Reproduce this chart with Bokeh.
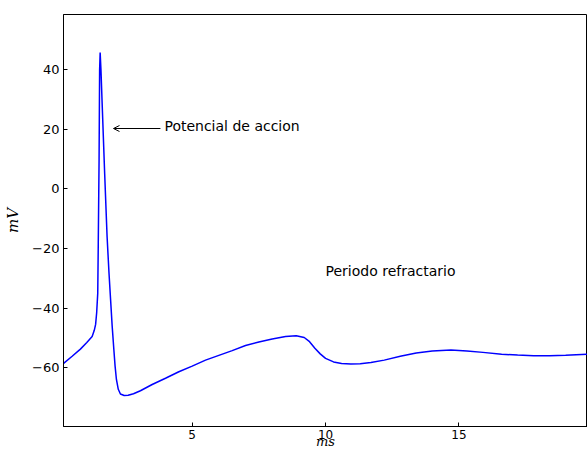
from bokeh.plotting import figure
from bokeh.models import Range1d, FixedTicker, Label, Arrow, OpenHead, ColumnDataSource
from bokeh.embed import file_html
from bokeh.resources import INLINE

# time (ms) and membrane potential (mV)
t_ms = [0.18, 0.5, 0.81, 1.05, 1.25, 1.33, 1.38, 1.42, 1.46, 1.48, 1.51, 1.53, 1.55,
        1.58, 1.63, 1.72, 1.81, 1.88, 1.94, 2.00, 2.06, 2.11, 2.16, 2.23, 2.31, 2.45,
        2.6, 2.8, 3.06, 3.5, 4.0, 4.5, 5.0, 5.5, 6.0, 6.5, 7.0, 7.5, 8.0, 8.5, 8.9,
        9.2, 9.4, 9.6, 9.8, 10.0, 10.3, 10.6, 10.95, 11.3, 11.7, 12.2, 12.8, 13.4,
        14.0, 14.7, 15.3, 15.9, 16.6, 17.2, 17.8, 18.4, 19.0, 19.6, 19.9]
v_mv = [-58.6, -56.2, -53.8, -51.6, -49.6, -47.5, -45.5, -41.5, -35.0, -18.0, 10.0, 40.0, 45.8,
        40.0, 27.4, 5.0, -16.0, -28.0, -37.0, -46.0, -53.5, -59.5, -64.0, -67.3, -68.9, -69.4,
        -69.3, -68.8, -67.8, -65.7, -63.6, -61.4, -59.5, -57.5, -55.9, -54.3, -52.6, -51.4, -50.4, -49.6, -49.3,
        -49.9, -51.3, -53.5, -55.4, -56.9, -58.1, -58.6, -58.8, -58.7, -58.3, -57.5, -56.2, -55.1,
        -54.4, -54.1, -54.4, -54.9, -55.5, -55.8, -56.0, -56.0, -55.9, -55.6, -55.5]

x_ticks = [5, 10, 15]
x_tick_labels = ["5", "10", "15"]
y_ticks = [-60, -40, -20, 0, 20, 40]
y_tick_labels = ["\u221260", "\u221240", "\u221220", "0", "20", "40"]

x_lim = (0.176, 19.82)
y_lim = (-79.8, 58.6)

ann1_text = "Potencial de accion"
ann1_xy = (2.05, 20.3)
ann1_xytext = (3.96, 21.2)
ann2_text = "Periodo refractario"
ann2_xy = (10.0, -30.2)

FONT = "DejaVu Sans"

p = figure(width=587, height=451, output_backend="svg", toolbar_location=None,
           x_range=Range1d(*x_lim), y_range=Range1d(*y_lim),
           min_border_left=63, min_border_right=0, min_border_top=14, min_border_bottom=25)
p.background_fill_color = "white"
p.border_fill_color = "white"
p.outline_line_color = "black"
p.outline_line_width = 1
p.xgrid.visible = False
p.ygrid.visible = False

src = ColumnDataSource(dict(t=t_ms, v=v_mv))
p.line("t", "v", source=src, line_color="#0000ff", line_width=1.5)

for ax, ticks, labels in ((p.xaxis[0], x_ticks, x_tick_labels), (p.yaxis[0], y_ticks, y_tick_labels)):
    ax.ticker = FixedTicker(ticks=ticks)
    ax.major_label_overrides = {tk: lb for tk, lb in zip(ticks, labels)}
    ax.major_tick_in = 4
    ax.major_tick_out = 0
    ax.minor_tick_in = 0
    ax.minor_tick_out = 0
    ax.major_label_standoff = 4
    ax.major_label_text_font = FONT
    ax.major_label_text_font_size = "13px"
    ax.major_label_text_color = "black"
    ax.axis_line_color = "black"
    ax.major_tick_line_color = "black"

p.xaxis[0].major_label_standoff = 3
p.xaxis[0].major_label_text_font_size = "12px"
p.xaxis[0].axis_label = "ms"
p.xaxis[0].axis_label_text_font = "DejaVu Serif"
p.xaxis[0].axis_label_text_font_style = "italic"
p.xaxis[0].axis_label_text_font_size = "13px"
p.xaxis[0].axis_label_standoff = -8
p.xaxis[0].axis_label_text_color = "black"

p.yaxis[0].axis_label = "mV"
p.yaxis[0].axis_label_text_font = "DejaVu Serif"
p.yaxis[0].axis_label_text_font_style = "italic"
p.yaxis[0].axis_label_text_font_size = "15px"
p.yaxis[0].axis_label_standoff = 7
p.yaxis[0].axis_label_text_color = "black"

p.add_layout(Arrow(end=OpenHead(size=6, line_color="black", line_width=1),
                   x_start=ann1_xytext[0] - 0.15, y_start=ann1_xy[1],
                   x_end=ann1_xy[0], y_end=ann1_xy[1], line_color="black", line_width=1))
p.add_layout(Label(x=ann1_xytext[0], y=ann1_xytext[1], text=ann1_text, text_font=FONT,
                   text_font_size="14px", text_baseline="middle", text_color="black"))
p.add_layout(Label(x=ann2_xy[0], y=ann2_xy[1], text=ann2_text, text_font=FONT,
                   text_font_size="14px", text_baseline="bottom", text_color="black"))

open("out.html", "w").write(file_html(p, INLINE))
